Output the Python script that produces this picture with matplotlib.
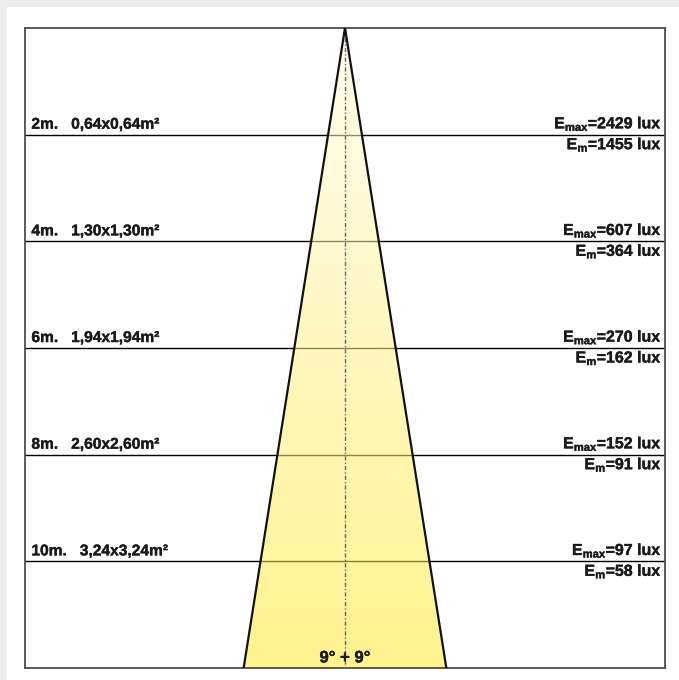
import numpy as np
import matplotlib.pyplot as plt
import matplotlib.patheffects as pe
from matplotlib.patches import Polygon, Rectangle
from matplotlib.colors import LinearSegmentedColormap

plt.rcParams['font.family'] = ['Liberation Sans', 'DejaVu Sans']
plt.rcParams['mathtext.fontset'] = 'custom'
plt.rcParams['mathtext.rm'] = 'Liberation Sans'
plt.rcParams['mathtext.bf'] = 'Liberation Sans:bold'

# beam data
half_angle = 9.0          # degrees
max_depth = 12.0          # metres shown
distances = [2, 4, 6, 8, 10]
spot_sizes = ["0,64x0,64", "1,30x1,30", "1,94x1,94", "2,60x2,60", "3,24x3,24"]
e_max = [2429, 607, 270, 152, 97]
e_mean = [1455, 364, 162, 91, 58]

fig = plt.figure(figsize=(6.79, 6.80), dpi=100, facecolor='#ececec')
# white panel behind the diagram
fig.patches.append(Rectangle((7 / 679, 0), 1, 1 - 7 / 680, transform=fig.transFigure,
                             facecolor='white', edgecolor='none', zorder=-10))

ax = fig.add_axes([25 / 679, 12 / 680, 640 / 679, 640 / 680])
ax.set_zorder(1)
ax.set_xlim(-6, 6)
ax.set_ylim(max_depth, 0)
ax.set_xticks([])
ax.set_yticks([])
for s in ax.spines.values():
    s.set_color('#4d4d4d')
    s.set_linewidth(1.3)

# distance lines
for d in distances:
    ax.axhline(d, color='black', lw=1.0, zorder=1)

# cone with vertical gradient
hw = max_depth * np.tan(np.radians(half_angle))
cone = Polygon([(0, 0), (-hw, max_depth), (hw, max_depth)], closed=True,
               facecolor='none', edgecolor='none')
ax.add_patch(cone)
cmap = LinearSegmentedColormap.from_list('beam', [(1.0, 0.99, 0.89), (1.0, 0.91, 0.2)])
grad = np.linspace(0, 1, 256).reshape(-1, 1)
img = ax.imshow(grad, extent=(-hw, hw, max_depth, 0), cmap=cmap, aspect='auto',
                alpha=0.55, zorder=2)
img.set_clip_path(cone)
ax.set_xlim(-6, 6)
ax.set_ylim(max_depth, 0)

ax.plot([0, -hw], [0, max_depth], color='#111111', lw=1.6, zorder=4)
ax.plot([0, hw], [0, max_depth], color='#111111', lw=1.6, zorder=4)
ax.plot([0, 0], [0, max_depth], color='#666666', lw=1.0, ls=(0, (3, 1.5, 1, 1.5)), zorder=3)

# labels (a thin stroke makes the bold a bit heavier)
thick = [pe.withStroke(linewidth=0.25, foreground='#1a1a1a')]
for d, sz, emx, em in zip(distances, spot_sizes, e_max, e_mean):
    ax.annotate(f"{d}m.   {sz}m²", xy=(-6, d), xytext=(4.6, 4.3), textcoords='offset points',
                ha='left', va='baseline', fontsize=11.2, fontweight='bold',
                color='#1a1a1a', path_effects=thick, zorder=5)
    ax.annotate(r"$\mathbf{E_{max}}$" + f"={emx} lux", xy=(6, d), xytext=(-2.0, 4.5),
                textcoords='offset points', ha='right', va='baseline',
                fontsize=11.5, fontweight='bold', color='#1a1a1a', path_effects=thick, zorder=5)
    ax.annotate(r"$\mathbf{E_{m}}$" + f"={em} lux", xy=(6, d), xytext=(-2.0, -10.5),
                textcoords='offset points', ha='right', va='baseline',
                fontsize=11.5, fontweight='bold', color='#1a1a1a', path_effects=thick, zorder=5)

ax.annotate(f"{half_angle:.0f}° + {half_angle:.0f}°", xy=(0, max_depth), xytext=(0, 4),
            textcoords='offset points', ha='center', va='baseline',
            fontsize=12, fontweight='bold', color='#1a1a1a', path_effects=thick, zorder=5)

fig.savefig("out.png", dpi=100, facecolor=fig.get_facecolor())
